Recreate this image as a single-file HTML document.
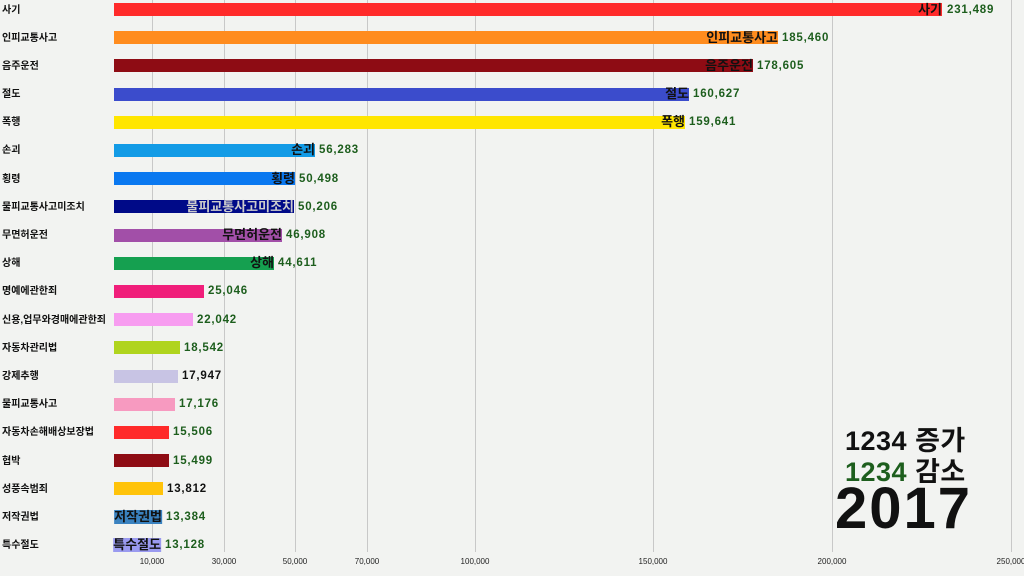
<!DOCTYPE html>
<html><head><meta charset="utf-8"><style>
body{margin:0;width:1024px;height:576px;background:#f2f3f1;overflow:hidden;position:relative;font-family:"Liberation Sans","Noto Sans CJK KR",sans-serif}
.g{position:absolute;top:0;height:552px;width:1px;background:#c8c8c8}
.t{position:absolute;top:557px;font-size:8px;color:#222;transform:translateX(-50%)}
.n{position:absolute;left:2px;font-size:10px;color:#111;font-weight:bold;line-height:13px;white-space:nowrap}
.b{position:absolute;left:114px;height:13px}
.l{position:absolute;font-size:13px;line-height:14px;color:#111;transform:translateX(-100%);font-weight:bold;white-space:nowrap}
.v{position:absolute;font-size:11.5px;letter-spacing:0.8px;line-height:13px;font-weight:bold;color:#1d5e1d}
.k{color:#111}
.lg{position:absolute;left:845px;font-size:27px;letter-spacing:0.5px;font-weight:bold;line-height:30px;white-space:nowrap}
</style></head><body>
<div class="g" style="left:152px"></div><div class="g" style="left:224px"></div><div class="g" style="left:295px"></div><div class="g" style="left:367px"></div><div class="g" style="left:475px"></div><div class="g" style="left:653px"></div><div class="g" style="left:832px"></div><div class="g" style="left:1011px"></div>
<div class="t" style="left:152px">10,000</div><div class="t" style="left:224px">30,000</div><div class="t" style="left:295px">50,000</div><div class="t" style="left:367px">70,000</div><div class="t" style="left:475px">100,000</div><div class="t" style="left:653px">150,000</div><div class="t" style="left:832px">200,000</div><div class="t" style="left:1011px">250,000</div>

<div class="n" style="top:4px">사기</div><div class="b" style="top:3px;width:828px;background:#ff2a2a"></div><div class="l" style="left:942px;top:3px">사기</div><div class="v" style="left:947px;top:4px">231,489</div>
<div class="n" style="top:32px">인피교통사고</div><div class="b" style="top:31px;width:664px;background:#ff8c1e"></div><div class="l" style="left:778px;top:31px">인피교통사고</div><div class="v" style="left:782px;top:32px">185,460</div>
<div class="n" style="top:60px">음주운전</div><div class="b" style="top:59px;width:639px;background:#8e0c14"></div><div class="l" style="left:753px;top:59px">음주운전</div><div class="v" style="left:757px;top:60px">178,605</div>
<div class="n" style="top:88px">절도</div><div class="b" style="top:88px;width:575px;background:#3b4ccc"></div><div class="l" style="left:689px;top:87px">절도</div><div class="v" style="left:693px;top:88px">160,627</div>
<div class="n" style="top:116px">폭행</div><div class="b" style="top:116px;width:571px;background:#ffe600"></div><div class="l" style="left:685px;top:115px">폭행</div><div class="v" style="left:689px;top:116px">159,641</div>
<div class="n" style="top:144px">손괴</div><div class="b" style="top:144px;width:201px;background:#139be6"></div><div class="l" style="left:315px;top:143px">손괴</div><div class="v" style="left:319px;top:144px">56,283</div>
<div class="n" style="top:173px">횡령</div><div class="b" style="top:172px;width:181px;background:#0a78f0"></div><div class="l" style="left:295px;top:172px">횡령</div><div class="v" style="left:299px;top:173px">50,498</div>
<div class="n" style="top:201px">물피교통사고미조치</div><div class="b" style="top:200px;width:180px;background:#000a88"></div><div class="l" style="left:294px;top:200px;color:#ccc">물피교통사고미조치</div><div class="v" style="left:298px;top:201px">50,206</div>
<div class="n" style="top:229px">무면허운전</div><div class="b" style="top:229px;width:168px;background:#a24fa8"></div><div class="l" style="left:282px;top:228px">무면허운전</div><div class="v" style="left:286px;top:229px">46,908</div>
<div class="n" style="top:257px">상해</div><div class="b" style="top:257px;width:160px;background:#15a050"></div><div class="l" style="left:274px;top:256px">상해</div><div class="v" style="left:278px;top:257px">44,611</div>
<div class="n" style="top:285px">명예에관한죄</div><div class="b" style="top:285px;width:90px;background:#f01e7a"></div><div class="v" style="left:208px;top:285px">25,046</div>
<div class="n" style="top:314px">신용,업무와경매에관한죄</div><div class="b" style="top:313px;width:79px;background:#f79cf0"></div><div class="v" style="left:197px;top:314px">22,042</div>
<div class="n" style="top:342px">자동차관리법</div><div class="b" style="top:341px;width:66px;background:#b0d41e"></div><div class="v" style="left:184px;top:342px">18,542</div>
<div class="n" style="top:370px">강제추행</div><div class="b" style="top:370px;width:64px;background:#c8c4e4"></div><div class="v k" style="left:182px;top:370px">17,947</div>
<div class="n" style="top:398px">물피교통사고</div><div class="b" style="top:398px;width:61px;background:#f79ac0"></div><div class="v" style="left:179px;top:398px">17,176</div>
<div class="n" style="top:426px">자동차손해배상보장법</div><div class="b" style="top:426px;width:55px;background:#ff2a2a"></div><div class="v" style="left:173px;top:426px">15,506</div>
<div class="n" style="top:455px">협박</div><div class="b" style="top:454px;width:55px;background:#8e0c14"></div><div class="v" style="left:173px;top:455px">15,499</div>
<div class="n" style="top:483px">성풍속범죄</div><div class="b" style="top:482px;width:49px;background:#ffc30a"></div><div class="v k" style="left:167px;top:483px">13,812</div>
<div class="n" style="top:511px">저작권법</div><div class="l" style="left:162px;top:510px;background:#3a82c0">저작권법</div><div class="v" style="left:166px;top:511px">13,384</div>
<div class="n" style="top:539px">특수절도</div><div class="l" style="left:161px;top:538px;background:#9a9af0">특수절도</div><div class="v" style="left:165px;top:539px">13,128</div>

<div class="lg" style="top:426px;color:#111">1234 증가</div>
<div class="lg" style="top:457px;color:#1d5e1d">1234 <span style="color:#111">감소</span></div>
<div style="position:absolute;left:835px;top:480px;font-size:58px;letter-spacing:2px;font-weight:bold;color:#111;line-height:58px">2017</div>
</body></html>
